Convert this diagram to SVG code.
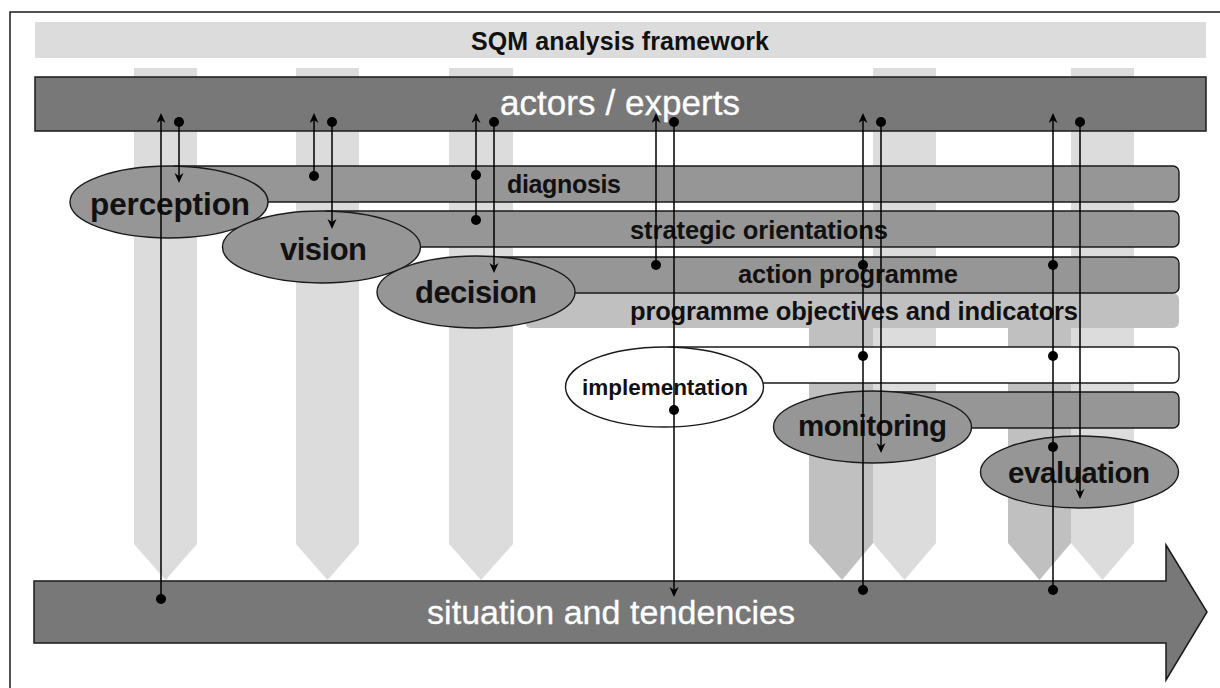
<svg xmlns="http://www.w3.org/2000/svg" width="1220" height="688" viewBox="0 0 1220 688">
<defs>
<style>
.frame{fill:none;stroke:#1a1a1a;stroke-width:1.5}
.lcol{fill:#dcdcdc}
.dcol{fill:#c0c0c0}
.dark{fill:#787878;stroke:#1a1a1a;stroke-width:1.5}
.bar{fill:#969696;stroke:#1a1a1a;stroke-width:1.4}
.wbar{fill:#ffffff;stroke:#1a1a1a;stroke-width:1.4}
.pbar{fill:#c0c0c0}
.ell{fill:#969696;stroke:#1a1a1a;stroke-width:1.4}
.well{fill:#ffffff;stroke:#1a1a1a;stroke-width:1.4}
text{font-family:"Liberation Sans",Arial,sans-serif}
.bt{fill:#111;font-weight:bold}
.wt{fill:#ffffff;stroke:#ffffff;stroke-width:0.3}
.ln{fill:none;stroke:#000;stroke-width:1.5}
.ar{marker-end:url(#arr)}
.dot{fill:#000}
</style>
<marker id="arr" markerUnits="userSpaceOnUse" markerWidth="12" markerHeight="10" refX="7" refY="4.5" orient="auto">
<path d="M0,0 L10,4.5 L0,9 L3,4.5 Z" fill="#000"/>
</marker>
</defs>

<path class="frame" d="M10,690 V12 H1222"/>

<g id="columns">
<polygon class="lcol" points="134,68 197,68 197,544 165.5,580 134,544"/>
<polygon class="lcol" points="296,68 359,68 359,544 327.5,580 296,544"/>
<polygon class="lcol" points="449,68 513,68 513,544 481,580 449,544"/>
<polygon class="dcol" points="809,293 873,293 873,543 842,580 809,543"/>
<polygon class="lcol" points="873,68 936,68 936,543 904.5,580 873,543"/>
<polygon class="dcol" points="1008,293 1071,293 1071,543 1039.5,580 1008,543"/>
<polygon class="lcol" points="1071,68 1134,68 1134,543 1102.5,580 1071,543"/>
</g>

<g id="title">
<rect x="35" y="22" width="1171" height="36" fill="#dcdcdc"/>
<text class="bt" x="471" y="50" font-size="25" textLength="298" lengthAdjust="spacing">SQM analysis framework</text>
</g>

<g id="actors">
<rect class="dark" x="35" y="77" width="1171" height="54"/>
<text class="wt" x="500" y="115" font-size="35" textLength="240" lengthAdjust="spacing">actors / experts</text>
</g>

<g id="diagnosis">
<rect class="bar" x="169" y="166" width="1010" height="36" rx="6"/>
<text class="bt" x="507" y="193" font-size="25" textLength="114" lengthAdjust="spacing">diagnosis</text>
</g>

<g id="strategic-orientations">
<rect class="bar" x="321" y="211" width="858" height="36" rx="6"/>
<text class="bt" x="630" y="239" font-size="25.5" textLength="258" lengthAdjust="spacing">strategic orientations</text>
</g>

<g id="programme-objectives">
<rect class="pbar" x="525" y="293" width="654" height="35" rx="6"/>
<text class="bt" x="630" y="320" font-size="25.5" textLength="448" lengthAdjust="spacing">programme objectives and indicators</text>
</g>

<g id="action-programme">
<rect class="bar" x="476" y="257" width="703" height="36" rx="6"/>
<text class="bt" x="738" y="283" font-size="25.5" textLength="220" lengthAdjust="spacing">action programme</text>
</g>

<g id="implementation-bar">
<rect class="wbar" x="664" y="347" width="515" height="36" rx="6"/>
</g>

<g id="monitoring-bar">
<rect class="bar" x="872" y="392" width="307" height="36" rx="6"/>
</g>

<g id="perception">
<ellipse class="ell" cx="169" cy="202" rx="99" ry="36"/>
<text class="bt" x="90" y="215" font-size="31.5" textLength="160" lengthAdjust="spacing">perception</text>
</g>

<g id="vision">
<ellipse class="ell" cx="321.5" cy="247" rx="99" ry="36"/>
<text class="bt" x="280" y="260" font-size="31" textLength="87" lengthAdjust="spacing">vision</text>
</g>

<g id="decision">
<ellipse class="ell" cx="476" cy="292" rx="99" ry="36"/>
<text class="bt" x="415" y="303" font-size="31" textLength="122" lengthAdjust="spacing">decision</text>
</g>

<g id="implementation">
<ellipse class="well" cx="664.5" cy="387" rx="99" ry="40"/>
<text class="bt" x="582" y="395" font-size="22.5" textLength="166" lengthAdjust="spacing">implementation</text>
</g>

<g id="monitoring">
<ellipse class="ell" cx="872.5" cy="427" rx="99" ry="36"/>
<text class="bt" x="798" y="436" font-size="29.5" textLength="149" lengthAdjust="spacing">monitoring</text>
</g>

<g id="evaluation">
<ellipse class="ell" cx="1079.5" cy="472" rx="99" ry="36"/>
<text class="bt" x="1008" y="483" font-size="29.5" textLength="142" lengthAdjust="spacing">evaluation</text>
</g>

<g id="situation">
<polygon class="dark" points="34,581 1166,581 1166,545 1207,612 1166,680 1166,643 34,643"/>
<text class="wt" x="427" y="624" font-size="34" textLength="368" lengthAdjust="spacing">situation and tendencies</text>
</g>

<g id="connectors">
<path class="ln ar" d="M161,599 V116"/>
<path class="ln ar" d="M179,122 V180"/>
<path class="ln ar" d="M314,176 V116"/>
<path class="ln ar" d="M332,122 V226"/>
<path class="ln ar" d="M476,220 V116"/>
<path class="ln ar" d="M494,122 V270"/>
<path class="ln ar" d="M656,265 V116"/>
<path class="ln ar" d="M674,122 V594"/>
<path class="ln ar" d="M863,590 V116"/>
<path class="ln ar" d="M881,122 V450"/>
<path class="ln ar" d="M1053,590 V116"/>
<path class="ln ar" d="M1080,122 V496"/>
<circle class="dot" cx="161" cy="599" r="5"/>
<circle class="dot" cx="179" cy="122" r="5"/>
<circle class="dot" cx="314" cy="176" r="5"/>
<circle class="dot" cx="332" cy="122" r="5"/>
<circle class="dot" cx="476" cy="175" r="5"/>
<circle class="dot" cx="476" cy="220" r="5"/>
<circle class="dot" cx="494" cy="122" r="5"/>
<circle class="dot" cx="656" cy="265" r="5"/>
<circle class="dot" cx="674" cy="122" r="5"/>
<circle class="dot" cx="674" cy="410" r="5"/>
<circle class="dot" cx="863" cy="265" r="5"/>
<circle class="dot" cx="863" cy="356" r="5"/>
<circle class="dot" cx="863" cy="590" r="5"/>
<circle class="dot" cx="881" cy="122" r="5"/>
<circle class="dot" cx="1053" cy="265" r="5"/>
<circle class="dot" cx="1053" cy="356" r="5"/>
<circle class="dot" cx="1053" cy="447" r="5"/>
<circle class="dot" cx="1053" cy="590" r="5"/>
<circle class="dot" cx="1080" cy="122" r="5"/>
</g>
</svg>
